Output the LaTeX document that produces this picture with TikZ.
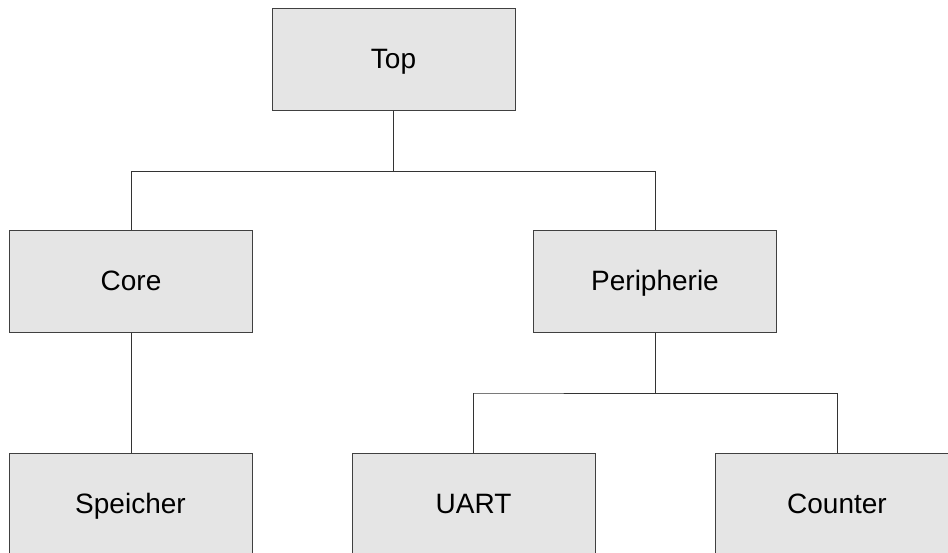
\documentclass[tikz,border=0pt]{standalone}
\usepackage{fontspec}
\setmainfont{Liberation Sans}
\begin{document}
\begin{tikzpicture}[x=1pt,y=-1pt,
  block/.style={draw=black!75, fill=black!10, line width=1pt,
    minimum width=243pt, minimum height=102pt, inner sep=0pt,
    text height=22pt, text depth=4pt,
    font=\fontsize{28}{33}\selectfont},
  link/.style={draw=black!80, line width=1pt}]
  \useasboundingbox (0,0) rectangle (948,552);
  \clip (0,0) rectangle (948,552);
  % module boxes
  \node[block] (top)   at (393.5,59)  {Top};
  \node[block] (core)  at (131,281)   {Core};
  \node[block] (peri)  at (655,281)   {Peripherie};
  \node[block] (mem)   at (130.5,504) {Speicher};
  \node[block] (uart)  at (473.5,504) {UART};
  \node[block] (count) at (837,504)   {Counter};
  % hierarchy connectors
  \draw[link] (top.south) |- (131,171) -| (core.north);
  \draw[link] (top.south) |- (655,171) -| (peri.north);
  \draw[link] (core.south) -- (core.south |- mem.north);
  \draw[link] (peri.south) |- (474,393) -| (uart.north);
  \draw[link] (peri.south) |- (837,393) -| (count.north);
\end{tikzpicture}
\end{document}
